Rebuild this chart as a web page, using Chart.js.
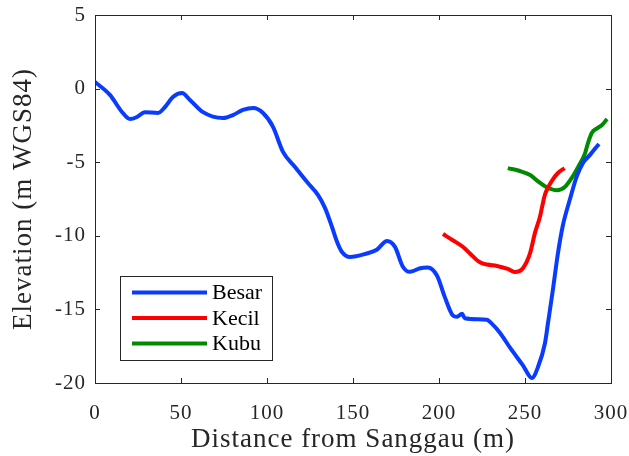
<!DOCTYPE html>
<html lang="en">

<head>
    <meta charset="UTF-8">
    <title>Elevation profile</title>
    <script src="https://cdn.jsdelivr.net/npm/chart.js@4/dist/chart.umd.min.js"></script>
    <style>
        html, body { margin: 0; padding: 0; background: #fff; }
    </style>
</head>

<body>
    <canvas id="elevChart" width="629" height="456"></canvas>
    <script>
        // data
        var besarX = [0, 8.7, 15.7, 20.3, 24.4, 29, 36.6, 40.7, 45.3, 50.6, 55.2, 62.8, 74.4, 80.2, 86, 92, 97.7, 103.5,
            109.3, 116.3, 123.3, 129.7, 133.7, 137.8, 140.7, 143.6, 148.3, 158, 163.8, 169.8, 174.4, 179, 183, 189, 193.5,
            198.8, 203.5, 208, 210.5, 213.4, 215, 227.7, 231, 235.5, 241.3, 248.8, 254, 257.6, 261.6, 263.4, 266.3, 269,
            272, 276, 280, 283.7, 287.8, 293];
        var besarY = [0.45, -0.43, -1.59, -2.07, -1.93, -1.6, -1.65, -1.25, -0.57, -0.3, -0.77, -1.6, -2.0, -1.8, -1.45, -1.32, -1.66, -2.6,
            -4.3, -5.33, -6.35, -7.23, -8.1, -9.4, -10.4, -11.1, -11.44, -11.2, -10.95, -10.35, -10.75, -12.1, -12.45, -12.2, -12.15,
            -12.7, -14.2, -15.4, -15.5, -15.3, -15.6, -15.7, -16.0, -16.6, -17.6, -18.8, -19.66, -18.9, -17.3, -15.9, -13.6, -11.3,
            -9.3, -7.57, -6.0, -5.05, -4.5, -3.76];

        var kecilX = [202.3, 208, 214, 218, 223.8, 228, 233.7, 240, 244, 248.8, 252.9, 255.8, 258.7, 260, 261.6, 263.5, 266, 269, 273];
        var kecilY = [-9.88, -10.3, -10.76, -11.2, -11.8, -11.95, -12.05, -12.25, -12.46, -12.2, -11.2, -9.8, -8.7, -8.0, -7.2, -6.7, -6.2, -5.75, -5.4];

        var kubuX = [240, 247, 253, 257.6, 262.6, 268.6, 273, 277, 281, 284.9, 286.6, 288.9, 291.9, 294.8, 297.7];
        var kubuY = [-5.4, -5.6, -5.87, -6.3, -6.7, -6.9, -6.7, -6.1, -5.3, -4.4, -3.7, -3.0, -2.7, -2.47, -2.07];

        var xTicks = [0, 50, 100, 150, 200, 250, 300];
        var yTicks = [-20, -15, -10, -5, 0, 5];

        var fontFam = '"Liberation Serif", "DejaVu Serif", serif';
        var axisColor = '#262626';

        function toPoints(xs, ys) {
            return xs.map(function (x, i) { return { x: x, y: ys[i] }; });
        }

        // the reference uses a wide latex font, so space the letters out a little
        var spacingPlugin = {
            id: 'spacing',
            beforeDraw: function (chart) { chart.ctx.letterSpacing = '1px'; },
            afterDraw: function (chart) { chart.ctx.letterSpacing = '0px'; }
        };

        // box round the plot with inward ticks, MATLAB style
        var boxPlugin = {
            id: 'box',
            afterDraw: function (chart) {
                var ctx = chart.ctx, a = chart.chartArea;
                var xs = chart.scales.x, ys = chart.scales.y;
                ctx.save();
                ctx.strokeStyle = axisColor;
                ctx.lineWidth = 1;
                ctx.strokeRect(a.left + 0.5, a.top + 0.5, a.right - a.left, a.bottom - a.top);
                ctx.beginPath();
                xTicks.forEach(function (v) {
                    var px = Math.round(xs.getPixelForValue(v)) + 0.5;
                    ctx.moveTo(px, a.bottom); ctx.lineTo(px, a.bottom - 5);
                    ctx.moveTo(px, a.top); ctx.lineTo(px, a.top + 5);
                });
                yTicks.forEach(function (v) {
                    var py = Math.round(ys.getPixelForValue(v)) + 0.5;
                    ctx.moveTo(a.left, py); ctx.lineTo(a.left + 5, py);
                    ctx.moveTo(a.right, py); ctx.lineTo(a.right - 5, py);
                });
                ctx.stroke();
                ctx.restore();
            }
        };

        // legend box inside the plot, lower left
        var legendPlugin = {
            id: 'inLegend',
            afterDraw: function (chart) {
                var ctx = chart.ctx;
                var bx = 120, by = 276, bw = 152, bh = 84;
                ctx.save();
                ctx.fillStyle = '#fff';
                ctx.fillRect(bx, by, bw, bh);
                ctx.strokeStyle = axisColor;
                ctx.lineWidth = 1;
                ctx.strokeRect(bx + 0.5, by + 0.5, bw, bh);
                ctx.font = '22px ' + fontFam;
                ctx.textBaseline = 'middle';
                chart.data.datasets.forEach(function (ds, i) {
                    var y = by + 16.5 + i * 25.5;
                    ctx.strokeStyle = ds.borderColor;
                    ctx.lineWidth = 4;
                    ctx.beginPath();
                    ctx.moveTo(132, y); ctx.lineTo(207, y);
                    ctx.stroke();
                    ctx.fillStyle = '#000';
                    ctx.fillText(ds.label, 212, y + 1);
                });
                ctx.restore();
            }
        };

        var elevChart = new Chart(document.getElementById('elevChart').getContext('2d'), {
            type: 'line',
            data: {
                datasets: [
                    { label: 'Besar', data: toPoints(besarX, besarY), borderColor: '#0a3cff' },
                    { label: 'Kecil', data: toPoints(kecilX, kecilY), borderColor: '#ff0000' },
                    { label: 'Kubu', data: toPoints(kubuX, kubuY), borderColor: '#008a00' }
                ]
            },
            options: {
                responsive: false,
                animation: false,
                devicePixelRatio: 1,
                layout: { padding: { top: 15, right: 18, left: 0, bottom: 0 } },
                elements: {
                    line: { borderWidth: 4, tension: 0.4, cubicInterpolationMode: 'monotone', fill: false },
                    point: { radius: 0 }
                },
                plugins: {
                    legend: { display: false },
                    tooltip: { enabled: false }
                },
                scales: {
                    x: {
                        type: 'linear', min: 0, max: 300,
                        afterBuildTicks: function (s) { s.ticks = xTicks.map(function (v) { return { value: v }; }); },
                        afterFit: function (s) { s.height = 73; s.paddingLeft = 0; s.paddingRight = 0; },
                        grid: { display: false, drawTicks: false },
                        border: { display: false },
                        ticks: { color: '#262626', padding: 18, autoSkip: false, maxRotation: 0, font: { family: fontFam, size: 21 } },
                        title: { display: true, text: 'Distance from Sanggau (m)', color: '#262626', padding: { top: 0, bottom: 0 }, font: { family: fontFam, size: 27 } }
                    },
                    y: {
                        min: -20, max: 5,
                        afterBuildTicks: function (s) { s.ticks = yTicks.map(function (v) { return { value: v }; }); },
                        afterFit: function (s) { s.width = 95; s.paddingTop = 0; s.paddingBottom = 0; },
                        grid: { display: false, drawTicks: false },
                        border: { display: false },
                        ticks: { color: '#262626', padding: 9, autoSkip: false, font: { family: fontFam, size: 21 } },
                        title: { display: true, text: 'Elevation (m WGS84)', color: '#262626', padding: { top: 8, bottom: 0 }, font: { family: fontFam, size: 27 } }
                    }
                }
            },
            plugins: [spacingPlugin, boxPlugin, legendPlugin]
        });
    </script>
</body>

</html>
